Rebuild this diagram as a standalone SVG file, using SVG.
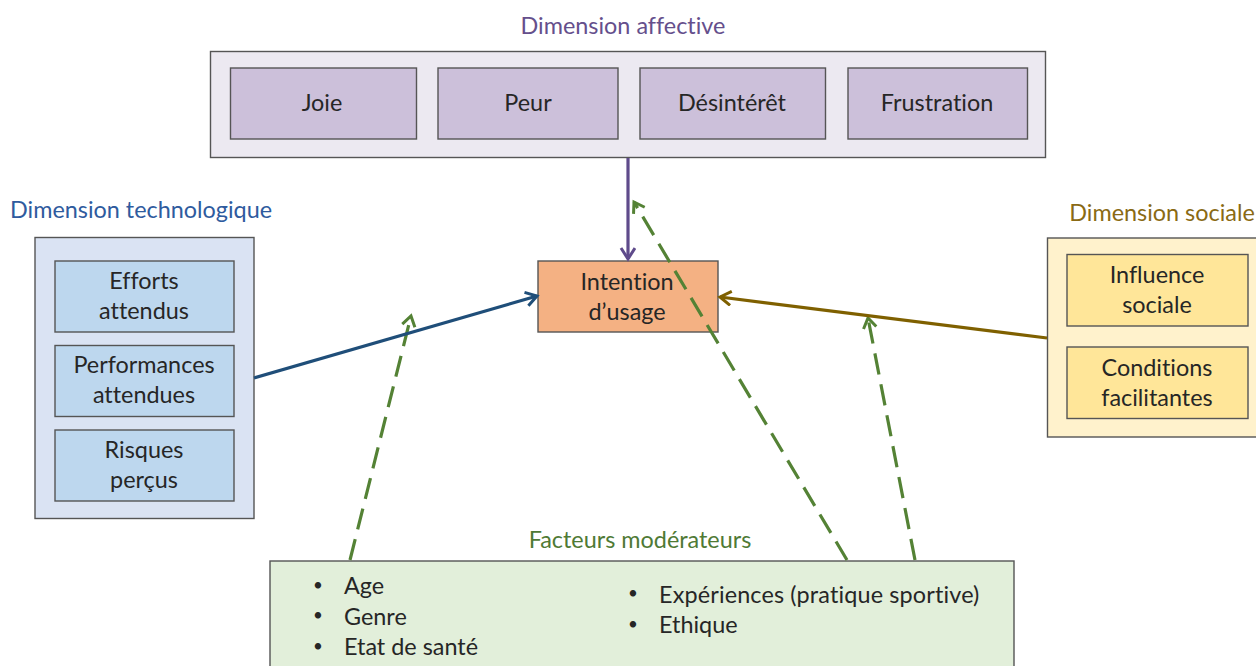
<svg xmlns="http://www.w3.org/2000/svg" width="1256" height="666" viewBox="0 0 1256 666">
<style>
text{font-family:"Lato","Open Sans","Liberation Sans",sans-serif;font-size:23.400px;fill:#262626;text-anchor:middle;font-variant-ligatures:none}
.l{text-anchor:start}
.b{font-size:17px}
.box{stroke:#555;stroke-width:1.400}
.conn{fill:none;stroke-width:3.200}
.dash{stroke:#548235;stroke-dasharray:21.500 10}
</style>
<defs>
<marker id="aP" markerUnits="userSpaceOnUse" markerWidth="18" markerHeight="18" refX="14" refY="8" orient="auto"><path d="M3 1L14 8L3 15" fill="none" stroke="#5f4b8b" stroke-width="3"/></marker>
<marker id="aB" markerUnits="userSpaceOnUse" markerWidth="18" markerHeight="18" refX="14" refY="8" orient="auto"><path d="M3 1L14 8L3 15" fill="none" stroke="#1f4e79" stroke-width="3"/></marker>
<marker id="aO" markerUnits="userSpaceOnUse" markerWidth="18" markerHeight="18" refX="14" refY="8" orient="auto"><path d="M3 1L14 8L3 15" fill="none" stroke="#7f6000" stroke-width="3"/></marker>
<marker id="aG" markerUnits="userSpaceOnUse" markerWidth="18" markerHeight="18" refX="14" refY="8" orient="auto"><path d="M4 1.500L14 8L4 14.500" fill="none" stroke="#548235" stroke-width="3"/></marker>
</defs>
<rect width="1256" height="666" fill="#fff"/>
<g id="affective">
<text x="623" y="34" style="fill:#654f8c">Dimension affective</text>
<rect class="box" x="210.500" y="51.500" width="835" height="106" fill="#ece9f1"/>
<g id="joie"><rect class="box" x="230.500" y="68" width="186" height="71" fill="#ccc0da"/><text x="322" y="111">Joie</text></g>
<g id="peur"><rect class="box" x="438" y="68" width="180" height="71" fill="#ccc0da"/><text x="528" y="111">Peur</text></g>
<g id="desinteret"><rect class="box" x="640" y="68" width="185.500" height="71" fill="#ccc0da"/><text x="732" y="111">Désintérêt</text></g>
<g id="frustration"><rect class="box" x="848" y="68" width="179.500" height="71" fill="#ccc0da"/><text x="937" y="111">Frustration</text></g>
</g>
<g id="technologique">
<text x="141" y="218" style="fill:#2f5b9e">Dimension technologique</text>
<rect class="box" x="35" y="237.500" width="219" height="281" fill="#dae3f3"/>
<g id="efforts"><rect class="box" x="55" y="261" width="179" height="71" fill="#bdd7ee"/><text x="144" y="289">Efforts</text><text x="144" y="319">attendus</text></g>
<g id="performances"><rect class="box" x="55" y="345.500" width="179" height="71" fill="#bdd7ee"/><text x="144" y="373">Performances</text><text x="144" y="403">attendues</text></g>
<g id="risques"><rect class="box" x="55" y="430" width="179" height="71" fill="#bdd7ee"/><text x="144" y="458">Risques</text><text x="144" y="488">perçus</text></g>
</g>
<g id="sociale">
<text x="1162" y="221" style="fill:#8a6a14">Dimension sociale</text>
<rect class="box" x="1047.500" y="238" width="215" height="199" fill="#fff2cc"/>
<g id="influence"><rect class="box" x="1067" y="254.500" width="181" height="71.500" fill="#ffe699"/><text x="1157" y="283">Influence</text><text x="1157" y="313">sociale</text></g>
<g id="conditions"><rect class="box" x="1067" y="347" width="181" height="71.500" fill="#ffe699"/><text x="1157" y="376">Conditions</text><text x="1157" y="406">facilitantes</text></g>
</g>
<g id="intention"><rect class="box" x="538" y="261" width="180" height="71" fill="#f4b183"/><text x="627" y="290">Intention</text><text x="627" y="320">d’usage</text></g>
<g id="moderateurs">
<text x="640" y="548" style="fill:#4f7a35">Facteurs modérateurs</text>
<rect class="box" x="270" y="561" width="744" height="110" fill="#e2efda"/>
<text class="b" x="318" y="591">•</text><text class="l" x="344" y="594">Age</text>
<text class="b" x="318" y="621">•</text><text class="l" x="344" y="625">Genre</text>
<text class="b" x="318" y="652">•</text><text class="l" x="344" y="655">Etat de santé</text>
<text class="b" x="633" y="599">•</text><text class="l" x="659" y="603" style="letter-spacing:.15px">Expériences (pratique sportive)</text>
<text class="b" x="633" y="630">•</text><text class="l" x="659" y="633">Ethique</text>
</g>
<g id="connectors">
<path class="conn dash" d="M350 560L411 316" marker-end="url(#aG)"/>
<path class="conn dash" d="M847 560L634 202" marker-end="url(#aG)"/>
<path class="conn dash" d="M915 560L868 318" marker-end="url(#aG)"/>
<path class="conn" stroke="#5f4b8b" d="M628 158V259" marker-end="url(#aP)"/>
<path class="conn" stroke="#1f4e79" d="M254 378L537 296" marker-end="url(#aB)"/>
<path class="conn" stroke="#7f6000" d="M1047 338L720 297" marker-end="url(#aO)"/>
</g>
</svg>
